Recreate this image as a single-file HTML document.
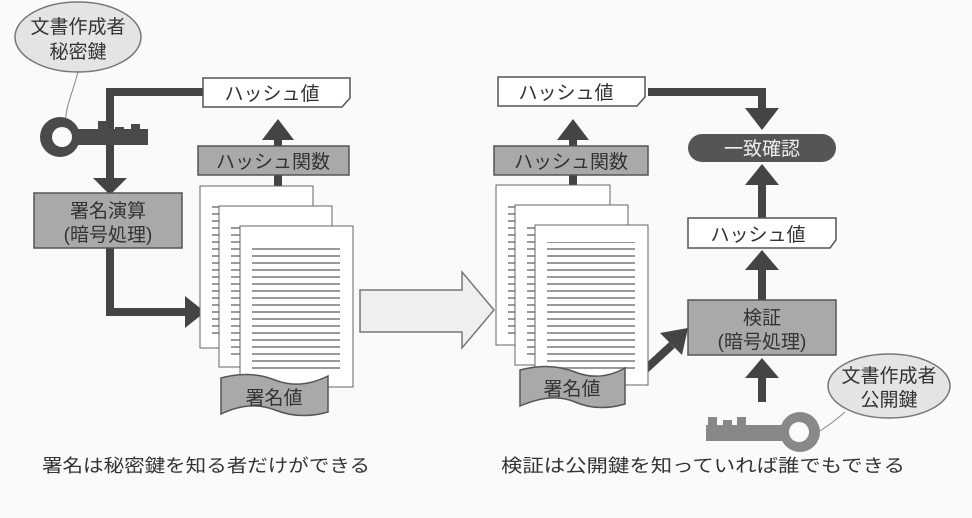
<!DOCTYPE html>
<html><head><meta charset="utf-8"><style>
body{margin:0;background:#fafaf8;}
svg{display:block;font-family:"Liberation Sans","Noto Sans CJK JP",sans-serif;}
</style></head><body>
<svg width="972" height="518" viewBox="0 0 972 518" xmlns="http://www.w3.org/2000/svg">
<defs>
<pattern id="ln" width="10" height="7" patternUnits="userSpaceOnUse"><rect width="10" height="2" y="3" fill="#9a9a9a"/></pattern>
</defs>
<rect width="972" height="518" fill="#fafaf8"/>
<g stroke="#444" stroke-width="8" fill="none">
<path d="M205 92H110V180"/>
<path d="M110 248V312H188"/>
<path d="M278 188V140"/>
<path d="M573 188V140"/>
<path d="M648 92H762V110"/>
<path d="M762 218V180"/>
<path d="M762 300V268"/>
<path d="M762 402V375"/>
<path d="M636 378L672 345"/>
</g>
<g fill="#444">
<polygon points="93,178 127,178 110,195"/>
<polygon points="185,296 205,312 185,328"/>
<polygon points="262,140 294,140 278,119"/>
<polygon points="557,140 589,140 573,119"/>
<polygon points="745,108 779,108 762,130"/>
<polygon points="745,185 779,185 762,164"/>
<polygon points="745,270 779,270 762,250"/>
<polygon points="745,378 779,378 762,358"/>
<polygon points="660,333 688,328 682,355"/>
</g>
<!-- ellipse 1 -->
<path d="M78 72 C72 95 64 110 66 125" stroke="#888" fill="none" stroke-width="1"/>
<ellipse cx="78" cy="37" rx="63" ry="35" fill="#e4e4e4" stroke="#777" stroke-width="1.5"/>
<text x="78" y="33" font-size="19" text-anchor="middle" fill="#333">文書作成者</text>
<text x="78" y="58" font-size="19" text-anchor="middle" fill="#333">秘密鍵</text>
<!-- key 1 -->
<g fill="#4a4a4a">
<rect x="76" y="129" width="72" height="16"/>
<rect x="98" y="121" width="10" height="10"/>
<rect x="115" y="127" width="9" height="6"/>
<rect x="131" y="124" width="9" height="8"/>
<circle cx="60" cy="137" r="20"/>
</g>
<circle cx="62" cy="137" r="10" fill="#fafaf8"/>
<!-- hash value 1 -->
<path d="M203 78H350V98L342 107H203Z" fill="#fff" stroke="#555" stroke-width="1.5"/>
<text x="272" y="100" font-size="19" text-anchor="middle" fill="#333">ハッシュ値</text>
<rect x="198" y="146" width="151" height="29" fill="#a9a9a9" stroke="#555" stroke-width="1.5"/>
<text x="273" y="168" font-size="19" text-anchor="middle" fill="#333">ハッシュ関数</text>
<rect x="34" y="193" width="148" height="55" fill="#a9a9a9" stroke="#555" stroke-width="1.5"/>
<text x="108" y="217" font-size="19" text-anchor="middle" fill="#333">署名演算</text>
<text x="108" y="241" font-size="19" text-anchor="middle" fill="#333">(暗号処理)</text>
<!-- docs left -->
<g stroke="#666" stroke-width="1">
<rect x="200" y="186" width="113" height="162" fill="#fff"/>
<rect x="212" y="203" width="90" height="135" fill="url(#ln)" stroke="none"/>
<rect x="219" y="206" width="113" height="161" fill="#fff"/>
<rect x="231" y="223" width="90" height="135" fill="url(#ln)" stroke="none"/>
<rect x="240" y="226" width="113" height="161" fill="#fff"/>
<rect x="252" y="243" width="88" height="130" fill="url(#ln)" stroke="none"/>
</g>
<path d="M221 378 Q250 370 275 380 T328 376 V412 Q300 420 275 410 T221 414Z" fill="#a9a9a9" stroke="#555" stroke-width="1.5"/>
<text x="274" y="404" font-size="19" text-anchor="middle" fill="#333">署名値</text>
<!-- big arrow -->
<path d="M360 290H462V272L494 310L462 348V332H360Z" fill="#efefef" stroke="#777" stroke-width="1.5"/>
<!-- right side -->
<path d="M498 77H645V97L637 106H498Z" fill="#fff" stroke="#555" stroke-width="1.5"/>
<text x="566" y="99" font-size="19" text-anchor="middle" fill="#333">ハッシュ値</text>
<rect x="494" y="146" width="154" height="29" fill="#a9a9a9" stroke="#555" stroke-width="1.5"/>
<text x="571" y="168" font-size="19" text-anchor="middle" fill="#333">ハッシュ関数</text>
<g stroke="#666" stroke-width="1">
<rect x="496" y="185" width="114" height="160" fill="#fff"/>
<rect x="508" y="202" width="90" height="133" fill="url(#ln)" stroke="none"/>
<rect x="515" y="205" width="113" height="160" fill="#fff"/>
<rect x="527" y="222" width="90" height="133" fill="url(#ln)" stroke="none"/>
<rect x="535" y="225" width="113" height="160" fill="#fff"/>
<rect x="547" y="242" width="88" height="128" fill="url(#ln)" stroke="none"/>
</g>
<path d="M520 370 Q550 362 575 372 T625 368 V404 Q598 412 575 402 T520 406Z" fill="#a9a9a9" stroke="#555" stroke-width="1.5"/>
<text x="572" y="395" font-size="19" text-anchor="middle" fill="#333">署名値</text>
<rect x="688" y="134" width="148" height="28" rx="14" fill="#555"/>
<text x="762" y="155" font-size="19" text-anchor="middle" fill="#eee">一致確認</text>
<path d="M688 218H836V240L830 248H688Z" fill="#fff" stroke="#555" stroke-width="1.5"/>
<text x="758" y="241" font-size="19" text-anchor="middle" fill="#333">ハッシュ値</text>
<rect x="688" y="300" width="148" height="55" fill="#a9a9a9" stroke="#555" stroke-width="1.5"/>
<text x="762" y="324" font-size="19" text-anchor="middle" fill="#333">検証</text>
<text x="762" y="348" font-size="19" text-anchor="middle" fill="#333">(暗号処理)</text>
<!-- key 2 -->
<g fill="#888">
<rect x="706" y="425" width="80" height="16"/>
<rect x="708" y="417" width="9" height="10"/>
<rect x="723" y="420" width="9" height="7"/>
<rect x="737" y="417" width="9" height="10"/>
<circle cx="800" cy="432" r="20"/>
</g>
<circle cx="799" cy="432" r="10" fill="#fafaf8"/>
<path d="M818 432 C830 425 838 418 845 412" stroke="#888" fill="none" stroke-width="1"/>
<ellipse cx="889" cy="386" rx="61" ry="32" fill="#e4e4e4" stroke="#777" stroke-width="1.5"/>
<text x="889" y="382" font-size="19" text-anchor="middle" fill="#333">文書作成者</text>
<text x="889" y="406" font-size="19" text-anchor="middle" fill="#333">公開鍵</text>
<text x="42" y="472" font-size="18" fill="#333" textLength="328" lengthAdjust="spacingAndGlyphs">署名は秘密鍵を知る者だけができる</text>
<text x="501" y="472" font-size="18" fill="#333" textLength="404" lengthAdjust="spacingAndGlyphs">検証は公開鍵を知っていれば誰でもできる</text>
</svg>
</body></html>
